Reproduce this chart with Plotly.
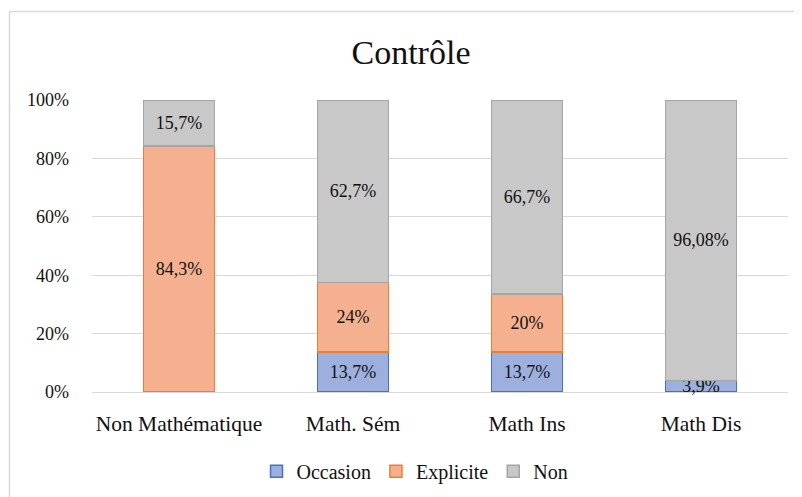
import plotly.graph_objects as go

categories = ["Non Mathématique", "Math. Sém", "Math Ins", "Math Dis"]
occasion = [0, 13.7, 13.7, 3.9]
explicite = [84.3, 24, 20, 0]
non = [15.7, 62.7, 66.7, 96.08]
occasion_text = ["", "13,7%", "13,7%", "3,9%"]
explicite_text = ["84,3%", "24%", "20%", ""]
non_text = ["15,7%", "62,7%", "66,7%", "96,08%"]

FONT = "Liberation Serif, Times New Roman, serif"

series = [
    ("Occasion", occasion, occasion_text, "#9db0dd", "#4472c4"),
    ("Explicite", explicite, explicite_text, "#f4b08f", "#ed7d31"),
    ("Non", non, non_text, "#c8c8c8", "#a5a5a5"),
]

fig = go.Figure()
for name, vals, txt, fill, edge in series:
    fig.add_trace(go.Bar(
        name=name, x=categories, y=vals,
        text=txt, textposition="inside", insidetextanchor="middle",
        constraintext="none", textangle=0, cliponaxis=False,
        textfont=dict(family=FONT, size=18, color="#111"),
        marker=dict(color=fill, line=dict(color=edge, width=1.5)),
        width=0.41,
    ))

# the page sits at an 8px body offset, so positions below are shifted by -8
L, T, W, H = 84, 92, 696, 292
bx = (1.5 - L) / W
by = (T + H - 3.5) / H

fig.update_layout(
    barmode="stack",
    barnorm="percent",
    width=802, height=497,
    margin=dict(l=L, r=802 - L - W, t=T, b=497 - T - H),
    paper_bgcolor="white",
    plot_bgcolor="white",
    font=dict(family=FONT, color="#111"),
    title=dict(text="Contrôle", x=0.5025, xanchor="center", y=0.9115, yanchor="middle",
               font=dict(family=FONT, size=34, color="#111")),
    legend=dict(orientation="h", xref="container", x=0.5075, xanchor="center",
                yref="container", y=0.068, yanchor="middle",
                font=dict(family=FONT, size=20), traceorder="normal",
                itemwidth=30),
    xaxis=dict(showgrid=False, showline=False, ticks="",
               tickfont=dict(family=FONT, size=21.5), ticklabelstandoff=16),
    yaxis=dict(range=[0, 100], dtick=20, ticksuffix="%", showgrid=True,
               gridcolor="#d9d9d9", gridwidth=1, zeroline=True, zerolinecolor="#d9d9d9",
               zerolinewidth=1, showline=False, ticks="",
               tickfont=dict(family=FONT, size=18), ticklabelstandoff=22),
    shapes=[
        dict(type="line", xref="paper", yref="paper",
             x0=bx, x1=1.1, y0=by, y1=by,
             line=dict(color="#d9d9d9", width=1.5)),
        dict(type="line", xref="paper", yref="paper",
             x0=bx, x1=bx, y0=by, y1=-0.5,
             line=dict(color="#d9d9d9", width=1.5)),
    ],
)

fig.write_html("out.html")
